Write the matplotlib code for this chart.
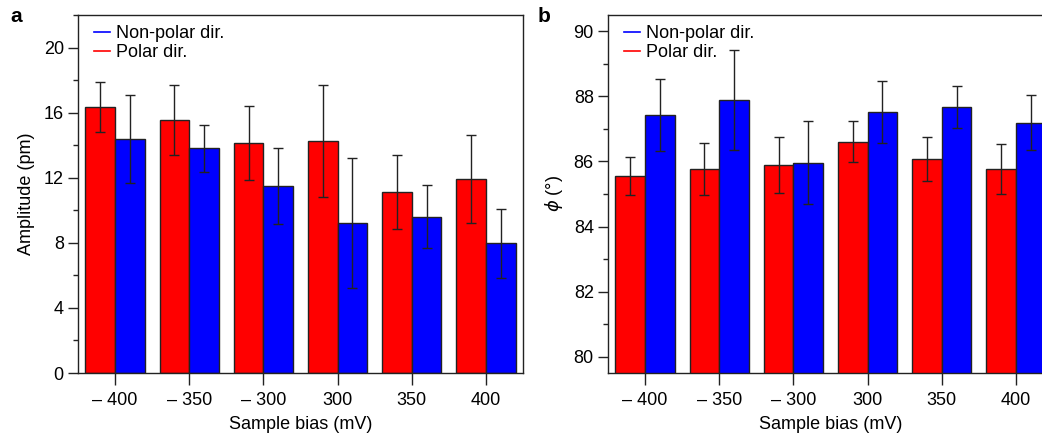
import numpy as np
import matplotlib
matplotlib.use("Agg")
import matplotlib.pyplot as plt
from matplotlib.ticker import MultipleLocator
from matplotlib.lines import Line2D

plt.rcParams['font.family'] = ['Liberation Sans', 'DejaVu Sans']
plt.rcParams['mathtext.fontset'] = 'dejavusans'

# data
bias_labels = ['\u2013 400', '\u2013 350', '\u2013 300', '300', '350', '400']

amp_polar = [16.35, 15.54, 14.13, 14.27, 11.10, 11.94]
amp_polar_err = [1.55, 2.17, 2.30, 3.45, 2.28, 2.70]
amp_nonpolar = [14.36, 13.80, 11.50, 9.22, 9.61, 7.96]
amp_nonpolar_err = [2.70, 1.44, 2.35, 4.00, 1.92, 2.13]

phi_polar = [85.56, 85.76, 85.90, 86.60, 86.07, 85.76]
phi_polar_err = [0.58, 0.80, 0.86, 0.63, 0.68, 0.77]
phi_nonpolar = [87.43, 87.88, 85.96, 87.52, 87.67, 87.19]
phi_nonpolar_err = [1.10, 1.54, 1.28, 0.94, 0.65, 0.85]

red = '#ff0000'
blue = '#0000ff'
frame = '#222222'
bar_w = 0.40
fs = 13

fig = plt.figure(figsize=(10.42, 4.34), dpi=100)
W, H = 1042.0, 434.0
ax_a = fig.add_axes([78 / W, (H - 373) / H, 445 / W, 358 / H])
# panel b runs past the right edge, as in the cropped original
ax_b = fig.add_axes([608 / W, (H - 373) / H, 445 / W, 358 / H])


def draw_panel(ax, polar, polar_err, nonpolar, nonpolar_err, ylim, major, minor, ylabel):
    x = np.arange(len(bias_labels))
    ax.bar(x - bar_w / 2, polar, bar_w, color=red, edgecolor=frame, linewidth=1.0, zorder=2)
    ax.bar(x + bar_w / 2, nonpolar, bar_w, color=blue, edgecolor=frame, linewidth=1.0, zorder=2)
    ax.errorbar(x - bar_w / 2, polar, yerr=polar_err, fmt='none', ecolor=frame,
                elinewidth=1.0, capsize=3.3, capthick=1.0, zorder=3)
    ax.errorbar(x + bar_w / 2, nonpolar, yerr=nonpolar_err, fmt='none', ecolor=frame,
                elinewidth=1.0, capsize=3.3, capthick=1.0, zorder=3)
    ax.set_xlim(-0.5, len(bias_labels) - 0.5)
    ax.set_ylim(*ylim)
    ax.set_xticks(x)
    ax.set_xticklabels(bias_labels)
    ax.yaxis.set_major_locator(MultipleLocator(major))
    ax.yaxis.set_minor_locator(MultipleLocator(minor))
    ax.tick_params(axis='x', which='major', direction='out', length=8.5, width=1.0,
                   color=frame, labelsize=fs, pad=5)
    ax.tick_params(axis='y', which='major', direction='out', length=7.2, width=1.0,
                   color=frame, labelsize=fs, pad=3)
    ax.tick_params(axis='y', which='minor', direction='out', length=3.4, width=1.0, color=frame)
    ax.tick_params(axis='x', which='minor', bottom=False)
    for s in ax.spines.values():
        s.set_linewidth(1.0)
        s.set_color(frame)
    ax.set_xlabel('Sample bias (mV)', fontsize=fs, labelpad=5)
    ax.set_ylabel(ylabel, fontsize=fs, labelpad=6)
    handles = [Line2D([], [], color=blue, lw=1.2), Line2D([], [], color=red, lw=1.2)]
    ax.legend(handles, ['Non-polar dir.', 'Polar dir.'], loc='upper left', frameon=False,
              fontsize=fs, handlelength=0.9, handletextpad=0.35, labelspacing=0.12,
              borderaxespad=0.1, bbox_to_anchor=(0.015, 0.997))


draw_panel(ax_a, amp_polar, amp_polar_err, amp_nonpolar, amp_nonpolar_err,
           (0, 22), 4, 2, 'Amplitude (pm)')
draw_panel(ax_b, phi_polar, phi_polar_err, phi_nonpolar, phi_nonpolar_err,
           (79.5, 90.5), 2, 1, r'$\phi$ (°)')

fig.text(16 / W, 1 - 16 / H, 'a', fontsize=15, fontweight='bold', va='center', ha='center')
fig.text(544 / W, 1 - 16 / H, 'b', fontsize=15, fontweight='bold', va='center', ha='center')

fig.savefig('out.png', dpi=100)
